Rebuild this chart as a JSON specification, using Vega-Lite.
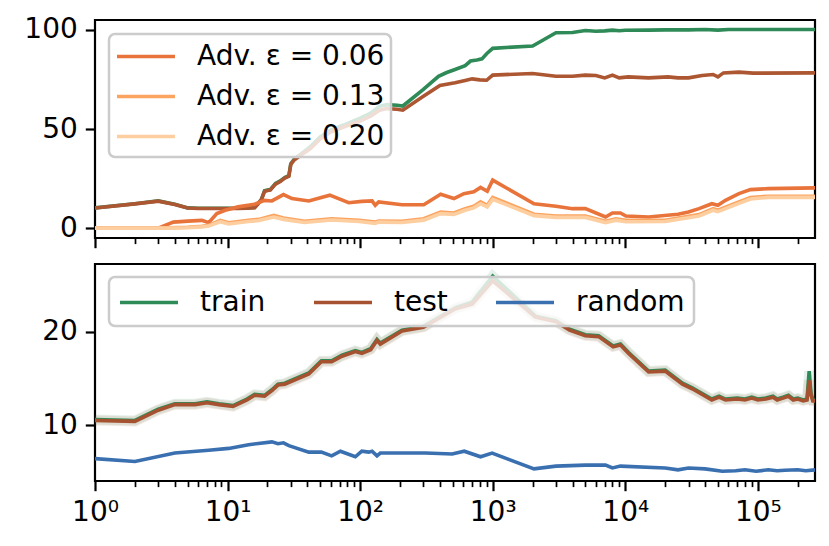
{
  "$schema": "https://vega.github.io/schema/vega-lite/v6.json",
  "padding": {"left": 0, "top": 14, "right": 0, "bottom": 0},
  "datasets": {
    "acc": [
      {"s": "train", "x": 1, "y": 10.2}, {"s": "train", "x": 2, "y": 12.3}, {"s": "train", "x": 3, "y": 13.7}, {"s": "train", "x": 4, "y": 12},
      {"s": "train", "x": 5, "y": 10.2}, {"s": "train", "x": 6, "y": 10}, {"s": "train", "x": 8, "y": 10}, {"s": "train", "x": 10, "y": 10},
      {"s": "train", "x": 12, "y": 10}, {"s": "train", "x": 14, "y": 10.1}, {"s": "train", "x": 16, "y": 10.4}, {"s": "train", "x": 17, "y": 12.5},
      {"s": "train", "x": 18, "y": 14.5}, {"s": "train", "x": 19, "y": 18.8}, {"s": "train", "x": 20, "y": 19.2}, {"s": "train", "x": 21, "y": 19.4},
      {"s": "train", "x": 23, "y": 22.5}, {"s": "train", "x": 25, "y": 23.8}, {"s": "train", "x": 27, "y": 25.5}, {"s": "train", "x": 29, "y": 26.5},
      {"s": "train", "x": 30, "y": 32.5}, {"s": "train", "x": 32, "y": 35}, {"s": "train", "x": 36, "y": 37.5}, {"s": "train", "x": 42, "y": 41},
      {"s": "train", "x": 50, "y": 46}, {"s": "train", "x": 60, "y": 49.5}, {"s": "train", "x": 75, "y": 52}, {"s": "train", "x": 100, "y": 55.5},
      {"s": "train", "x": 120, "y": 58}, {"s": "train", "x": 140, "y": 61.5}, {"s": "train", "x": 160, "y": 62.3}, {"s": "train", "x": 190, "y": 62},
      {"s": "train", "x": 210, "y": 61.6}, {"s": "train", "x": 300, "y": 70}, {"s": "train", "x": 390, "y": 76.6}, {"s": "train", "x": 450, "y": 78.5},
      {"s": "train", "x": 520, "y": 80}, {"s": "train", "x": 620, "y": 82}, {"s": "train", "x": 680, "y": 84.3}, {"s": "train", "x": 760, "y": 84.8},
      {"s": "train", "x": 830, "y": 85.4}, {"s": "train", "x": 900, "y": 88}, {"s": "train", "x": 1000, "y": 90.7}, {"s": "train", "x": 2000, "y": 91.9},
      {"s": "train", "x": 3000, "y": 98.6}, {"s": "train", "x": 4000, "y": 98.7}, {"s": "train", "x": 5000, "y": 99.7}, {"s": "train", "x": 6000, "y": 99.3},
      {"s": "train", "x": 7000, "y": 99.5}, {"s": "train", "x": 8000, "y": 99.9}, {"s": "train", "x": 9000, "y": 99.6}, {"s": "train", "x": 10000, "y": 99.8},
      {"s": "train", "x": 15000, "y": 99.9}, {"s": "train", "x": 20000, "y": 100}, {"s": "train", "x": 30000, "y": 100}, {"s": "train", "x": 40000, "y": 100.2},
      {"s": "train", "x": 50000, "y": 99.9}, {"s": "train", "x": 60000, "y": 100.2}, {"s": "train", "x": 100000, "y": 100.2}, {"s": "train", "x": 270000, "y": 100.2},

      {"s": "test", "x": 1, "y": 10.1}, {"s": "test", "x": 2, "y": 12.2}, {"s": "test", "x": 3, "y": 13.6}, {"s": "test", "x": 4, "y": 11.9},
      {"s": "test", "x": 5, "y": 10.1}, {"s": "test", "x": 6, "y": 9.9}, {"s": "test", "x": 8, "y": 9.9}, {"s": "test", "x": 10, "y": 9.9},
      {"s": "test", "x": 12, "y": 9.9}, {"s": "test", "x": 14, "y": 10}, {"s": "test", "x": 16, "y": 10.3}, {"s": "test", "x": 17, "y": 12.3},
      {"s": "test", "x": 18, "y": 14.3}, {"s": "test", "x": 19, "y": 18.5}, {"s": "test", "x": 20, "y": 19}, {"s": "test", "x": 21, "y": 19.2},
      {"s": "test", "x": 23, "y": 22.2}, {"s": "test", "x": 25, "y": 23.5}, {"s": "test", "x": 27, "y": 25.2}, {"s": "test", "x": 29, "y": 26.2},
      {"s": "test", "x": 30, "y": 32.2}, {"s": "test", "x": 32, "y": 34.5}, {"s": "test", "x": 36, "y": 37}, {"s": "test", "x": 42, "y": 40},
      {"s": "test", "x": 50, "y": 45}, {"s": "test", "x": 60, "y": 48.5}, {"s": "test", "x": 75, "y": 51}, {"s": "test", "x": 100, "y": 54},
      {"s": "test", "x": 120, "y": 56.5}, {"s": "test", "x": 140, "y": 59.5}, {"s": "test", "x": 160, "y": 60.3}, {"s": "test", "x": 190, "y": 60},
      {"s": "test", "x": 210, "y": 59.5}, {"s": "test", "x": 300, "y": 66.5}, {"s": "test", "x": 400, "y": 72}, {"s": "test", "x": 520, "y": 73.3},
      {"s": "test", "x": 620, "y": 74.5}, {"s": "test", "x": 700, "y": 75.3}, {"s": "test", "x": 800, "y": 74.8}, {"s": "test", "x": 900, "y": 74.6},
      {"s": "test", "x": 1000, "y": 77.2}, {"s": "test", "x": 2000, "y": 78}, {"s": "test", "x": 3000, "y": 76.6}, {"s": "test", "x": 4000, "y": 76.6},
      {"s": "test", "x": 5000, "y": 77.2}, {"s": "test", "x": 6000, "y": 77}, {"s": "test", "x": 7000, "y": 75.8}, {"s": "test", "x": 8000, "y": 77.2},
      {"s": "test", "x": 9000, "y": 75.8}, {"s": "test", "x": 10500, "y": 76.3}, {"s": "test", "x": 15000, "y": 75.8}, {"s": "test", "x": 21000, "y": 76.3},
      {"s": "test", "x": 25000, "y": 75.8}, {"s": "test", "x": 30000, "y": 75.8}, {"s": "test", "x": 38000, "y": 77}, {"s": "test", "x": 46000, "y": 77.5},
      {"s": "test", "x": 50000, "y": 76.3}, {"s": "test", "x": 55000, "y": 78.3}, {"s": "test", "x": 72000, "y": 78.7}, {"s": "test", "x": 92000, "y": 78.2},
      {"s": "test", "x": 270000, "y": 78.3},

      {"s": "Adv. ε = 0.06", "x": 1, "y": 0}, {"s": "Adv. ε = 0.06", "x": 2, "y": 0}, {"s": "Adv. ε = 0.06", "x": 3, "y": 0}, {"s": "Adv. ε = 0.06", "x": 3.9, "y": 3},
      {"s": "Adv. ε = 0.06", "x": 5, "y": 3.5}, {"s": "Adv. ε = 0.06", "x": 6.4, "y": 3.9}, {"s": "Adv. ε = 0.06", "x": 7.2, "y": 2.7}, {"s": "Adv. ε = 0.06", "x": 8.3, "y": 7.3},
      {"s": "Adv. ε = 0.06", "x": 9.6, "y": 9}, {"s": "Adv. ε = 0.06", "x": 12, "y": 10.7}, {"s": "Adv. ε = 0.06", "x": 16, "y": 12}, {"s": "Adv. ε = 0.06", "x": 19, "y": 14},
      {"s": "Adv. ε = 0.06", "x": 21.6, "y": 13.7}, {"s": "Adv. ε = 0.06", "x": 26.4, "y": 16.9}, {"s": "Adv. ε = 0.06", "x": 30.6, "y": 14.9}, {"s": "Adv. ε = 0.06", "x": 41, "y": 13.7},
      {"s": "Adv. ε = 0.06", "x": 59, "y": 16.6}, {"s": "Adv. ε = 0.06", "x": 82, "y": 12.8}, {"s": "Adv. ε = 0.06", "x": 103, "y": 13.5}, {"s": "Adv. ε = 0.06", "x": 123, "y": 13.7},
      {"s": "Adv. ε = 0.06", "x": 130, "y": 11.5}, {"s": "Adv. ε = 0.06", "x": 138, "y": 13.2}, {"s": "Adv. ε = 0.06", "x": 207, "y": 11.8}, {"s": "Adv. ε = 0.06", "x": 302, "y": 11.8},
      {"s": "Adv. ε = 0.06", "x": 405, "y": 17.1}, {"s": "Adv. ε = 0.06", "x": 510, "y": 14.9}, {"s": "Adv. ε = 0.06", "x": 606, "y": 17.4}, {"s": "Adv. ε = 0.06", "x": 720, "y": 18.3},
      {"s": "Adv. ε = 0.06", "x": 810, "y": 20.5}, {"s": "Adv. ε = 0.06", "x": 910, "y": 18.6}, {"s": "Adv. ε = 0.06", "x": 1000, "y": 24.2}, {"s": "Adv. ε = 0.06", "x": 2050, "y": 12.3},
      {"s": "Adv. ε = 0.06", "x": 3000, "y": 11}, {"s": "Adv. ε = 0.06", "x": 4000, "y": 9.8}, {"s": "Adv. ε = 0.06", "x": 5000, "y": 9.8}, {"s": "Adv. ε = 0.06", "x": 7100, "y": 5.6},
      {"s": "Adv. ε = 0.06", "x": 8000, "y": 7.6}, {"s": "Adv. ε = 0.06", "x": 9200, "y": 7.6}, {"s": "Adv. ε = 0.06", "x": 10100, "y": 6.1}, {"s": "Adv. ε = 0.06", "x": 15000, "y": 5.6},
      {"s": "Adv. ε = 0.06", "x": 25000, "y": 7}, {"s": "Adv. ε = 0.06", "x": 30000, "y": 8.1}, {"s": "Adv. ε = 0.06", "x": 36000, "y": 9.8}, {"s": "Adv. ε = 0.06", "x": 45000, "y": 12.3},
      {"s": "Adv. ε = 0.06", "x": 50000, "y": 11.5}, {"s": "Adv. ε = 0.06", "x": 57000, "y": 14}, {"s": "Adv. ε = 0.06", "x": 72000, "y": 17.4}, {"s": "Adv. ε = 0.06", "x": 88000, "y": 19.4},
      {"s": "Adv. ε = 0.06", "x": 120000, "y": 19.9}, {"s": "Adv. ε = 0.06", "x": 270000, "y": 20.3},

      {"s": "Adv. ε = 0.13", "x": 1, "y": 0}, {"s": "Adv. ε = 0.13", "x": 2, "y": 0}, {"s": "Adv. ε = 0.13", "x": 3, "y": 0}, {"s": "Adv. ε = 0.13", "x": 5, "y": 0.4},
      {"s": "Adv. ε = 0.13", "x": 6.4, "y": 0.9}, {"s": "Adv. ε = 0.13", "x": 7.2, "y": 1.4}, {"s": "Adv. ε = 0.13", "x": 8.8, "y": 3.9}, {"s": "Adv. ε = 0.13", "x": 10.2, "y": 2.7},
      {"s": "Adv. ε = 0.13", "x": 14.4, "y": 3.9}, {"s": "Adv. ε = 0.13", "x": 17.2, "y": 4.4}, {"s": "Adv. ε = 0.13", "x": 22.3, "y": 6.4}, {"s": "Adv. ε = 0.13", "x": 26.4, "y": 5.1},
      {"s": "Adv. ε = 0.13", "x": 38, "y": 3.4}, {"s": "Adv. ε = 0.13", "x": 61, "y": 4.7}, {"s": "Adv. ε = 0.13", "x": 98, "y": 3.9}, {"s": "Adv. ε = 0.13", "x": 130, "y": 3},
      {"s": "Adv. ε = 0.13", "x": 138, "y": 3.6}, {"s": "Adv. ε = 0.13", "x": 207, "y": 3.4}, {"s": "Adv. ε = 0.13", "x": 302, "y": 4.7}, {"s": "Adv. ε = 0.13", "x": 405, "y": 8.1},
      {"s": "Adv. ε = 0.13", "x": 510, "y": 7.6}, {"s": "Adv. ε = 0.13", "x": 620, "y": 9.8}, {"s": "Adv. ε = 0.13", "x": 720, "y": 11}, {"s": "Adv. ε = 0.13", "x": 810, "y": 13.2},
      {"s": "Adv. ε = 0.13", "x": 910, "y": 11.5}, {"s": "Adv. ε = 0.13", "x": 1000, "y": 15.4}, {"s": "Adv. ε = 0.13", "x": 2050, "y": 7}, {"s": "Adv. ε = 0.13", "x": 3000, "y": 6.1},
      {"s": "Adv. ε = 0.13", "x": 5000, "y": 6.1}, {"s": "Adv. ε = 0.13", "x": 7100, "y": 3.4}, {"s": "Adv. ε = 0.13", "x": 8500, "y": 4.7}, {"s": "Adv. ε = 0.13", "x": 10100, "y": 3.9},
      {"s": "Adv. ε = 0.13", "x": 20000, "y": 3.9}, {"s": "Adv. ε = 0.13", "x": 36000, "y": 6.8}, {"s": "Adv. ε = 0.13", "x": 46000, "y": 9.8}, {"s": "Adv. ε = 0.13", "x": 50000, "y": 9},
      {"s": "Adv. ε = 0.13", "x": 72000, "y": 13.2}, {"s": "Adv. ε = 0.13", "x": 88000, "y": 15.4}, {"s": "Adv. ε = 0.13", "x": 120000, "y": 16.1}, {"s": "Adv. ε = 0.13", "x": 270000, "y": 16.1},

      {"s": "Adv. ε = 0.20", "x": 1, "y": 0}, {"s": "Adv. ε = 0.20", "x": 2, "y": 0}, {"s": "Adv. ε = 0.20", "x": 3, "y": 0}, {"s": "Adv. ε = 0.20", "x": 5, "y": 0.2},
      {"s": "Adv. ε = 0.20", "x": 6.4, "y": 0.6}, {"s": "Adv. ε = 0.20", "x": 7.2, "y": 1}, {"s": "Adv. ε = 0.20", "x": 8.8, "y": 3.2}, {"s": "Adv. ε = 0.20", "x": 10.2, "y": 2.1},
      {"s": "Adv. ε = 0.20", "x": 14.4, "y": 3.3}, {"s": "Adv. ε = 0.20", "x": 17.2, "y": 3.8}, {"s": "Adv. ε = 0.20", "x": 22.3, "y": 5.6}, {"s": "Adv. ε = 0.20", "x": 26.4, "y": 4.4},
      {"s": "Adv. ε = 0.20", "x": 38, "y": 2.8}, {"s": "Adv. ε = 0.20", "x": 61, "y": 4.1}, {"s": "Adv. ε = 0.20", "x": 98, "y": 3.3}, {"s": "Adv. ε = 0.20", "x": 130, "y": 2.4},
      {"s": "Adv. ε = 0.20", "x": 138, "y": 3}, {"s": "Adv. ε = 0.20", "x": 207, "y": 2.8}, {"s": "Adv. ε = 0.20", "x": 302, "y": 4}, {"s": "Adv. ε = 0.20", "x": 405, "y": 7.3},
      {"s": "Adv. ε = 0.20", "x": 510, "y": 6.9}, {"s": "Adv. ε = 0.20", "x": 620, "y": 9}, {"s": "Adv. ε = 0.20", "x": 720, "y": 10.2}, {"s": "Adv. ε = 0.20", "x": 810, "y": 12.3},
      {"s": "Adv. ε = 0.20", "x": 910, "y": 10.7}, {"s": "Adv. ε = 0.20", "x": 1000, "y": 14.5}, {"s": "Adv. ε = 0.20", "x": 2050, "y": 6.3}, {"s": "Adv. ε = 0.20", "x": 3000, "y": 5.4},
      {"s": "Adv. ε = 0.20", "x": 5000, "y": 5.4}, {"s": "Adv. ε = 0.20", "x": 7100, "y": 2.8}, {"s": "Adv. ε = 0.20", "x": 8500, "y": 4}, {"s": "Adv. ε = 0.20", "x": 10100, "y": 3.2},
      {"s": "Adv. ε = 0.20", "x": 20000, "y": 3.3}, {"s": "Adv. ε = 0.20", "x": 36000, "y": 6.1}, {"s": "Adv. ε = 0.20", "x": 46000, "y": 9}, {"s": "Adv. ε = 0.20", "x": 50000, "y": 8.3},
      {"s": "Adv. ε = 0.20", "x": 72000, "y": 12.5}, {"s": "Adv. ε = 0.20", "x": 88000, "y": 14.7}, {"s": "Adv. ε = 0.20", "x": 120000, "y": 15.5}, {"s": "Adv. ε = 0.20", "x": 270000, "y": 15.5}
    ],
    "dist": [
      {"s": "train", "x": 1, "y": 10.6}, {"s": "train", "x": 2, "y": 10.5}, {"s": "train", "x": 3, "y": 11.7}, {"s": "train", "x": 4, "y": 12.3},
      {"s": "train", "x": 5.7, "y": 12.3}, {"s": "train", "x": 7, "y": 12.5}, {"s": "train", "x": 8.6, "y": 12.3}, {"s": "train", "x": 11, "y": 12.1},
      {"s": "train", "x": 14, "y": 12.8}, {"s": "train", "x": 16, "y": 13.3}, {"s": "train", "x": 19, "y": 13.2}, {"s": "train", "x": 21.6, "y": 13.8},
      {"s": "train", "x": 24, "y": 14.4}, {"s": "train", "x": 27, "y": 14.5}, {"s": "train", "x": 41, "y": 15.6}, {"s": "train", "x": 51, "y": 16.9},
      {"s": "train", "x": 61, "y": 16.9}, {"s": "train", "x": 73, "y": 17.5}, {"s": "train", "x": 92, "y": 18}, {"s": "train", "x": 103, "y": 17.8},
      {"s": "train", "x": 120, "y": 18.2}, {"s": "train", "x": 134, "y": 19.2}, {"s": "train", "x": 142, "y": 18.8}, {"s": "train", "x": 207, "y": 20.2},
      {"s": "train", "x": 300, "y": 20.6}, {"s": "train", "x": 525, "y": 22.6}, {"s": "train", "x": 700, "y": 23.2}, {"s": "train", "x": 1000, "y": 26},
      {"s": "train", "x": 2100, "y": 21.7}, {"s": "train", "x": 3000, "y": 21.2}, {"s": "train", "x": 3800, "y": 20.3}, {"s": "train", "x": 5000, "y": 19.7},
      {"s": "train", "x": 6300, "y": 19.6}, {"s": "train", "x": 8100, "y": 18.5}, {"s": "train", "x": 9200, "y": 18.7}, {"s": "train", "x": 10600, "y": 17.8},
      {"s": "train", "x": 15000, "y": 15.8}, {"s": "train", "x": 20000, "y": 15.9}, {"s": "train", "x": 27000, "y": 14.5}, {"s": "train", "x": 32000, "y": 14},
      {"s": "train", "x": 45000, "y": 12.8}, {"s": "train", "x": 51000, "y": 13.1}, {"s": "train", "x": 57000, "y": 12.8}, {"s": "train", "x": 70000, "y": 12.9},
      {"s": "train", "x": 80000, "y": 12.8}, {"s": "train", "x": 90000, "y": 13}, {"s": "train", "x": 100000, "y": 12.8}, {"s": "train", "x": 115000, "y": 12.9},
      {"s": "train", "x": 130000, "y": 13.1}, {"s": "train", "x": 140000, "y": 12.8}, {"s": "train", "x": 155000, "y": 13}, {"s": "train", "x": 170000, "y": 13.2},
      {"s": "train", "x": 185000, "y": 12.8}, {"s": "train", "x": 200000, "y": 12.9}, {"s": "train", "x": 220000, "y": 12.7}, {"s": "train", "x": 235000, "y": 12.8},
      {"s": "train", "x": 244000, "y": 15.8}, {"s": "train", "x": 252000, "y": 13.4}, {"s": "train", "x": 260000, "y": 12.7}, {"s": "train", "x": 270000, "y": 12.7},

      {"s": "test", "x": 1, "y": 10.5}, {"s": "test", "x": 2, "y": 10.4}, {"s": "test", "x": 3, "y": 11.6}, {"s": "test", "x": 4, "y": 12.2},
      {"s": "test", "x": 5.7, "y": 12.2}, {"s": "test", "x": 7, "y": 12.4}, {"s": "test", "x": 8.6, "y": 12.2}, {"s": "test", "x": 11, "y": 12},
      {"s": "test", "x": 14, "y": 12.7}, {"s": "test", "x": 16, "y": 13.2}, {"s": "test", "x": 19, "y": 13.1}, {"s": "test", "x": 21.6, "y": 13.7},
      {"s": "test", "x": 24, "y": 14.3}, {"s": "test", "x": 27, "y": 14.4}, {"s": "test", "x": 41, "y": 15.5}, {"s": "test", "x": 51, "y": 16.8},
      {"s": "test", "x": 61, "y": 16.8}, {"s": "test", "x": 73, "y": 17.4}, {"s": "test", "x": 92, "y": 17.9}, {"s": "test", "x": 103, "y": 17.7},
      {"s": "test", "x": 120, "y": 18.1}, {"s": "test", "x": 134, "y": 19.1}, {"s": "test", "x": 142, "y": 18.7}, {"s": "test", "x": 207, "y": 20.1},
      {"s": "test", "x": 300, "y": 20.5}, {"s": "test", "x": 525, "y": 22.5}, {"s": "test", "x": 700, "y": 23}, {"s": "test", "x": 1000, "y": 25.5},
      {"s": "test", "x": 2100, "y": 21.6}, {"s": "test", "x": 3000, "y": 21.1}, {"s": "test", "x": 3800, "y": 20.2}, {"s": "test", "x": 5000, "y": 19.6},
      {"s": "test", "x": 6300, "y": 19.5}, {"s": "test", "x": 8100, "y": 18.4}, {"s": "test", "x": 9200, "y": 18.6}, {"s": "test", "x": 10600, "y": 17.7},
      {"s": "test", "x": 15000, "y": 15.7}, {"s": "test", "x": 20000, "y": 15.8}, {"s": "test", "x": 27000, "y": 14.4}, {"s": "test", "x": 32000, "y": 13.9},
      {"s": "test", "x": 45000, "y": 12.7}, {"s": "test", "x": 51000, "y": 13}, {"s": "test", "x": 57000, "y": 12.7}, {"s": "test", "x": 70000, "y": 12.8},
      {"s": "test", "x": 80000, "y": 12.7}, {"s": "test", "x": 90000, "y": 12.9}, {"s": "test", "x": 100000, "y": 12.7}, {"s": "test", "x": 115000, "y": 12.8},
      {"s": "test", "x": 130000, "y": 13}, {"s": "test", "x": 140000, "y": 12.7}, {"s": "test", "x": 155000, "y": 12.9}, {"s": "test", "x": 170000, "y": 13.1},
      {"s": "test", "x": 185000, "y": 12.7}, {"s": "test", "x": 200000, "y": 12.8}, {"s": "test", "x": 220000, "y": 12.6}, {"s": "test", "x": 235000, "y": 12.7},
      {"s": "test", "x": 244000, "y": 14.8}, {"s": "test", "x": 252000, "y": 13.2}, {"s": "test", "x": 260000, "y": 12.6}, {"s": "test", "x": 270000, "y": 12.6},

      {"s": "random", "x": 1, "y": 6.4}, {"s": "random", "x": 2, "y": 6.1}, {"s": "random", "x": 4, "y": 7}, {"s": "random", "x": 7.2, "y": 7.3},
      {"s": "random", "x": 10.2, "y": 7.5}, {"s": "random", "x": 14.4, "y": 7.9}, {"s": "random", "x": 21.6, "y": 8.2}, {"s": "random", "x": 24, "y": 8},
      {"s": "random", "x": 26.4, "y": 8.1}, {"s": "random", "x": 29, "y": 7.8}, {"s": "random", "x": 41, "y": 7.1}, {"s": "random", "x": 51, "y": 7.1},
      {"s": "random", "x": 61, "y": 6.7}, {"s": "random", "x": 71, "y": 7.2}, {"s": "random", "x": 92, "y": 6.6}, {"s": "random", "x": 103, "y": 7.2},
      {"s": "random", "x": 116, "y": 7.1}, {"s": "random", "x": 123, "y": 7.2}, {"s": "random", "x": 134, "y": 6.7}, {"s": "random", "x": 142, "y": 7},
      {"s": "random", "x": 311, "y": 7}, {"s": "random", "x": 495, "y": 6.9}, {"s": "random", "x": 610, "y": 7.2}, {"s": "random", "x": 810, "y": 6.6},
      {"s": "random", "x": 990, "y": 7}, {"s": "random", "x": 2050, "y": 5.3}, {"s": "random", "x": 3000, "y": 5.6}, {"s": "random", "x": 5000, "y": 5.7},
      {"s": "random", "x": 7100, "y": 5.7}, {"s": "random", "x": 8000, "y": 5.4}, {"s": "random", "x": 9200, "y": 5.6}, {"s": "random", "x": 20000, "y": 5.4},
      {"s": "random", "x": 25000, "y": 5.2}, {"s": "random", "x": 30000, "y": 5.4}, {"s": "random", "x": 40000, "y": 5.3}, {"s": "random", "x": 54000, "y": 5.05},
      {"s": "random", "x": 68000, "y": 5.1}, {"s": "random", "x": 80000, "y": 5.2}, {"s": "random", "x": 97000, "y": 5.05}, {"s": "random", "x": 120000, "y": 5.2},
      {"s": "random", "x": 140000, "y": 5.1}, {"s": "random", "x": 160000, "y": 5.15}, {"s": "random", "x": 200000, "y": 5.2}, {"s": "random", "x": 230000, "y": 5.1},
      {"s": "random", "x": 270000, "y": 5.2}
    ]
  },
  "vconcat": [
    {
      "width": 720,
      "height": 218,
      "data": {"name": "acc"},
      "mark": {"type": "line", "strokeWidth": 3.6, "clip": true},
      "encoding": {
        "x": {
          "field": "x", "type": "quantitative",
          "scale": {"type": "log", "domain": [1, 270000], "nice": false},
          "axis": {
            "labels": false,
            "values": [1, 2, 3, 4, 5, 6, 7, 8, 9, 10, 20, 30, 40, 50, 60, 70, 80, 90, 100, 200, 300, 400, 500, 600, 700, 800, 900, 1000, 2000, 3000, 4000, 5000, 6000, 7000, 8000, 9000, 10000, 20000, 30000, 40000, 50000, 60000, 70000, 80000, 90000, 100000, 200000],
            "tickSize": {"condition": {"test": "indexof([1, 10, 100, 1000, 10000, 100000], datum.value) >= 0", "value": 9.7}, "value": 5.6},
            "tickWidth": {"condition": {"test": "indexof([1, 10, 100, 1000, 10000, 100000], datum.value) >= 0", "value": 2.2}, "value": 1.7}
          }
        },
        "y": {
          "field": "y", "type": "quantitative",
          "scale": {"domain": [-5, 105], "nice": false, "zero": false},
          "axis": {"values": [0, 50, 100], "minExtent": 93, "maxExtent": 93}
        },
        "color": {
          "field": "s", "type": "nominal", "sort": null,
          "scale": {
            "domain": ["train", "test", "Adv. ε = 0.06", "Adv. ε = 0.13", "Adv. ε = 0.20"],
            "range": ["#2e8a57", "#ad5632", "#e8743b", "#fba35f", "#fdcfa0"]
          },
          "legend": {
            "values": ["Adv. ε = 0.06", "Adv. ε = 0.13", "Adv. ε = 0.20"],
            "orient": "none", "legendX": 14, "legendY": 14,
            "rowPadding": 9, "padding": 6
          }
        }
      }
    },
    {
      "width": 720,
      "height": 217,
      "data": {"name": "dist"},
      "layer": [
        {
          "mark": {"type": "line", "strokeWidth": 10, "opacity": 0.12, "clip": true, "color": "#2e8a57"},
          "transform": [{"filter": "datum.s == 'train'"}],
          "encoding": {
            "x": {"field": "x", "type": "quantitative"},
            "y": {"field": "y", "type": "quantitative"}
          }
        },
        {
          "mark": {"type": "line", "strokeWidth": 10, "opacity": 0.12, "clip": true, "color": "#a0502c"},
          "transform": [{"filter": "datum.s == 'test'"}],
          "encoding": {
            "x": {"field": "x", "type": "quantitative"},
            "y": {"field": "y", "type": "quantitative"}
          }
        },
        {
          "mark": {"type": "line", "strokeWidth": 3.6, "clip": true},
          "encoding": {
            "x": {
              "field": "x", "type": "quantitative",
              "scale": {"type": "log", "domain": [1, 270000], "nice": false},
              "axis": {
                "values": [1, 2, 3, 4, 5, 6, 7, 8, 9, 10, 20, 30, 40, 50, 60, 70, 80, 90, 100, 200, 300, 400, 500, 600, 700, 800, 900, 1000, 2000, 3000, 4000, 5000, 6000, 7000, 8000, 9000, 10000, 20000, 30000, 40000, 50000, 60000, 70000, 80000, 90000, 100000, 200000],
                "labelExpr": "datum.value == 1 ? '10⁰' : datum.value == 10 ? '10¹' : datum.value == 100 ? '10²' : datum.value == 1000 ? '10³' : datum.value == 10000 ? '10⁴' : datum.value == 100000 ? '10⁵' : ''",
                "labelOverlap": false,
                "labelBound": false,
                "labelFlush": false,
                "tickSize": {"condition": {"test": "indexof([1, 10, 100, 1000, 10000, 100000], datum.value) >= 0", "value": 9.7}, "value": 5.6},
                "tickWidth": {"condition": {"test": "indexof([1, 10, 100, 1000, 10000, 100000], datum.value) >= 0", "value": 2.2}, "value": 1.7}
              }
            },
            "y": {
              "field": "y", "type": "quantitative",
              "scale": {"domain": [4.0, 27.3], "nice": false, "zero": false},
              "axis": {"values": [10, 20], "minExtent": 93, "maxExtent": 93}
            },
            "color": {
              "field": "s", "type": "nominal", "sort": null,
              "scale": {"domain": ["train", "test", "random"], "range": ["#2e8a57", "#a65230", "#3a70b0"]},
              "legend": {
                "orient": "none", "legendX": 14, "legendY": 13,
                "direction": "horizontal", "columns": 3, "gridAlign": "none", "columnPadding": 40,
                "padding": 9
              }
            }
          }
        }
      ]
    }
  ],
  "spacing": 12,
  "resolve": {"scale": {"color": "independent", "x": "independent"}, "legend": {"color": "independent"}},
  "config": {
    "font": "DejaVu Sans",
    "view": {"stroke": "black", "strokeWidth": 2.2},
    "axis": {
      "domain": false, "grid": false, "title": null,
      "labelFont": "DejaVu Sans", "labelFontSize": 28, "labelColor": "black",
      "tickColor": "black", "tickSize": 9.7, "tickWidth": 2.2, "labelPadding": 8
    },
    "legend": {
      "title": null,
      "labelFont": "DejaVu Sans", "labelFontSize": 28, "labelColor": "black", "labelLimit": 500,
      "symbolType": "M-1,0H3", "symbolSize": 841, "symbolStrokeWidth": 3.6,
      "labelOffset": 49,
      "fillColor": "rgba(255,255,255,0.8)", "strokeColor": "#cccccc", "strokeWidth": 2.5, "cornerRadius": 6
    }
  }
}
